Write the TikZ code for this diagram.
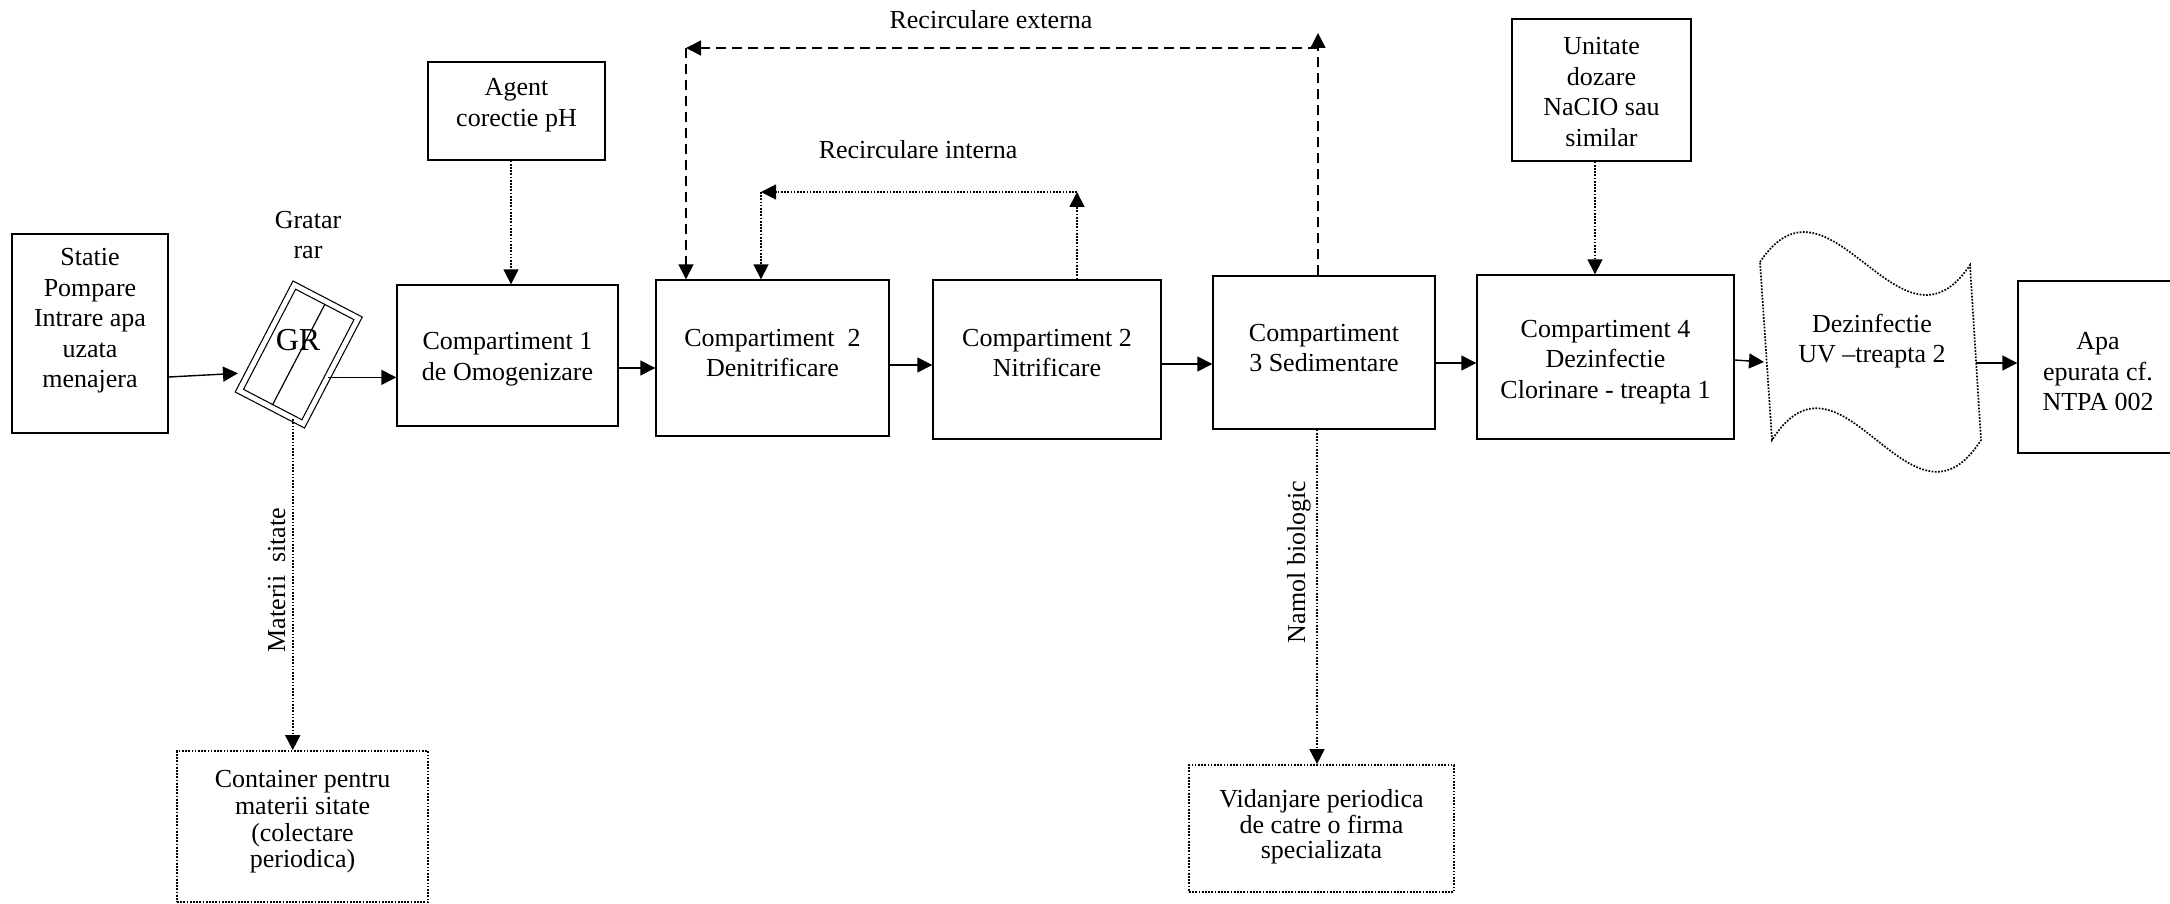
\documentclass[tikz,border=0pt]{standalone}
\usepackage{fontspec}
\setmainfont{Liberation Serif}
\usetikzlibrary{arrows.meta,calc}
\begin{document}
\begin{tikzpicture}[x=0.5pt,y=-0.5pt,
  font=\fontsize{13}{15.25}\selectfont,
  sz/.style 2 args={minimum width={#1*0.5pt},minimum height={#2*0.5pt}},
  box/.style={draw,line width=0.7pt,inner sep=0pt},
  dotbox/.style={draw,inner sep=0pt,line width=0.85pt,dash pattern=on 0.85pt off 0.75pt},
  txt/.style={align=center,inner sep=0pt},
  arr/.style={line width=0.7pt,-{Triangle[length=7.5pt,width=7.5pt]}},
  dotarr/.style={arr,line width=0.85pt,dash pattern=on 0.85pt off 0.75pt},
  dasharr/.style={arr,dash pattern=on 5pt off 3pt},
  dotline/.style={line width=0.85pt,dash pattern=on 0.85pt off 0.75pt}]
\useasboundingbox (0,0) rectangle (2170,904);

% main chain
\node[box,sz={156}{199}] (statie) at (90,333.5) {};
\node[txt] (statie-t) at (90,321) {Statie\\Pompare\\Intrare apa\\uzata\\menajera};

\node[draw,line width=0.6pt,double,double distance=2.4pt,rotate=-27.5,sz={72}{119}] (gr) at (298.75,354.5) {};
\draw[line width=0.6pt,shorten <=1.5pt,shorten >=1.5pt] (gr.north) -- (gr.south);
\node[inner sep=0pt,font=\fontsize{16}{19}\selectfont] (gr-t) at (298,340) {GR};
\node[txt] (gratar) at (308,235) {Gratar\\rar};

\node[box,sz={221}{141}] (c1) at (507.5,355.5) {};
\node[txt] (c1-t) at (507.5,359) {Compartiment 1\\de Omogenizare};

\node[box,sz={177}{98}] (agent) at (516.5,111) {};
\node[txt] (agent-t) at (516.5,105) {Agent\\corectie pH};

\node[box,sz={233}{156}] (c2) at (772.5,358) {};
\node[txt] (c2-t) at (772.5,353) {Compartiment\ \ 2\\Denitrificare};

\node[box,sz={228}{159}] (nitr) at (1047,359.5) {};
\node[txt] (nitr-t) at (1047,353) {Compartiment 2\\Nitrificare};

\node[box,sz={222}{153}] (c3) at (1324,352.5) {};
\node[txt] (c3-t) at (1324,348) {Compartiment\\3 Sedimentare};

\node[box,sz={257}{164}] (c4) at (1605.5,357) {};
\node[txt] (c4-t) at (1605.5,362) {Compartiment 4\\Dezinfectie\\Clorinare - treapta 1};

\node[box,sz={179}{142}] (unitate) at (1601.5,90) {};
\node[txt] (unitate-t) at (1601.5,92) {Unitate\\dozare\\NaCIO sau\\similar};

% UV disinfection (tape-like shape)
\node[sz={215}{200},inner sep=0pt] (dez) at (1870,351) {};
\draw[dotline] (1760,262) .. controls (1830,157) and (1900,370) .. (1970,265)
  -- (1981,440) .. controls (1911,550) and (1842,330) .. (1772,440) -- cycle;
\node[txt] (dez-t) at (1872,341) {Dezinfectie\\UV –treapta 2};
\coordinate (dezin) at (1764,362);
\coordinate (dezout) at (1976,363);

\begin{scope}
\clip (0,0) rectangle (2170,904);
\node[box,sz={162}{172}] (apa) at (2099,367) {};
\end{scope}
\node[txt] (apa-t) at (2098,372) {Apa\\epurata cf.\\NTPA 002};

% bottom boxes
\node[dotbox,sz={251}{151}] (cont) at (302.5,826.5) {};
\node[txt,font=\fontsize{13}{13.3}\selectfont] (cont-t) at (302.5,822) {Container pentru\\materii sitate\\(colectare\\periodica)};

\node[dotbox,sz={265}{127}] (vid) at (1321.5,828.5) {};
\node[txt,font=\fontsize{13}{12.75}\selectfont] (vid-t) at (1321.5,827) {Vidanjare periodica\\de catre o firma\\specializata};

% main flow arrows
\coordinate (grin) at ($(gr.south west)!0.17!(gr.north west)$);
\coordinate (grout) at ($(gr.north east)!0.556!(gr.south east)$);
\draw[arr,shorten >=5pt] ([yshift=-21.75pt]statie.east) -- (grin);
\draw[arr] (grout) -- (grout -| c1.west);
\draw[arr] ([yshift=-6.25pt]c1.east) -- ([yshift=-6.25pt]c1.east -| c2.west);
\draw[arr] ([yshift=-3.5pt]c2.east) -- ([yshift=-3.5pt]c2.east -| nitr.west);
\draw[arr] ([yshift=-2.25pt]nitr.east) -- ([yshift=-2.25pt]nitr.east -| c3.west);
\draw[arr] ([yshift=-5.25pt]c3.east) -- ([yshift=-5.25pt]c3.east -| c4.west);
\draw[arr] ([yshift=-1.5pt]c4.east) -- (dezin);
\draw[arr] (dezout) -- (dezout -| apa.west);

% dosing
\draw[dotarr] ([xshift=-2.75pt]agent.south) -- ([xshift=-2.75pt]agent.south |- c1.north);
\draw[dotarr] ([xshift=-3.25pt]unitate.south) -- ([xshift=-3.25pt]unitate.south |- c4.north);

% external recirculation
\coordinate (extTop) at (1318,33);
\coordinate (extRight) at (1318,48);
\coordinate (extLeft) at (686,48);
\draw[dasharr] ([xshift=-3pt]c3.north) -- ([xshift=-3pt]c3.north |- extTop);
\draw[dasharr] (extRight) -- (extLeft);
\draw[dasharr] (extLeft) -- (extLeft |- c2.north);
\node[inner sep=0pt,anchor=base] (ext-l) at (991,29) {Recirculare externa};

% internal recirculation
\coordinate (intRight) at (1077,192);
\coordinate (intLeft) at (761,192);
\draw[dotarr] (intRight |- nitr.north) -- (intRight);
\draw[dotarr] (intRight) -- (intLeft);
\draw[dotarr] (intLeft) -- (intLeft |- c2.north);
\node[inner sep=0pt,anchor=base] (int-l) at (918,159) {Recirculare interna};

% screenings and sludge
\coordinate (grb) at ($(gr.south west)!0.835!(gr.south east)$);
\draw[dotarr] (grb) -- (grb |- cont.north);
\node[rotate=90,anchor=base,inner sep=0pt] (materii) at (285,580) {Materii\ \ sitate};
\draw[dotarr] ([xshift=-3.5pt]c3.south) -- ([xshift=-3.5pt]c3.south |- vid.north);
\node[rotate=90,anchor=base,inner sep=0pt] (namol) at (1305,562) {Namol biologic};
\end{tikzpicture}
\end{document}
